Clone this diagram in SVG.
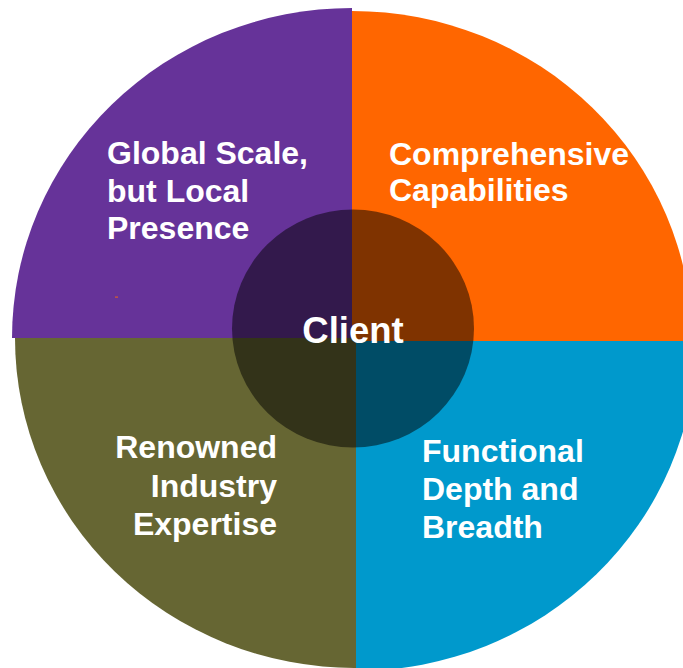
<svg xmlns="http://www.w3.org/2000/svg" width="683" height="668" viewBox="0 0 683 668">
<style>
.lbl{font-family:"Liberation Sans",Arial,sans-serif;font-weight:bold;font-size:32px;fill:#ffffff}
.ctr{font-family:"Liberation Sans",Arial,sans-serif;font-weight:bold;font-size:36.5px;fill:#ffffff}
</style>
<rect width="683" height="668" fill="#ffffff"/>
<g id="global">
<path d="M352,338 L12,338 A340,330 0 0,1 352,8 Z" fill="#663399"/>
<rect x="115" y="296.5" width="3" height="1.2" fill="#d8602c"/>
</g>
<g id="comprehensive">
<path d="M352,341 L352,11 A340,330 0 0,1 692,341 Z" fill="#ff6600"/>
</g>
<g id="functional">
<path d="M356,341 L696,341 A340,330 0 0,1 356,671 Z" fill="#0099cc"/>
</g>
<g id="renowned">
<path d="M356,338 L356,668 A340,330 0 0,1 15,338 Z" fill="#666633"/>
</g>
<g id="client">
<ellipse cx="353" cy="328.5" rx="121" ry="119" fill="#000000" fill-opacity="0.5"/>
<text class="ctr" x="353" y="343" text-anchor="middle">Client</text>
</g>
<g id="labels">
<text class="lbl" x="107" y="164">Global Scale,</text>
<text class="lbl" x="107" y="202">but Local</text>
<text class="lbl" x="107" y="239">Presence</text>
<text class="lbl" x="389" y="165">Comprehensive</text>
<text class="lbl" x="389" y="201">Capabilities</text>
<text class="lbl" x="277" y="458" text-anchor="end">Renowned</text>
<text class="lbl" x="277" y="497" text-anchor="end">Industry</text>
<text class="lbl" x="277" y="535" text-anchor="end">Expertise</text>
<text class="lbl" x="422" y="462">Functional</text>
<text class="lbl" x="422" y="500">Depth and</text>
<text class="lbl" x="422" y="538">Breadth</text>
</g>
<g id="connectors"/>
</svg>
